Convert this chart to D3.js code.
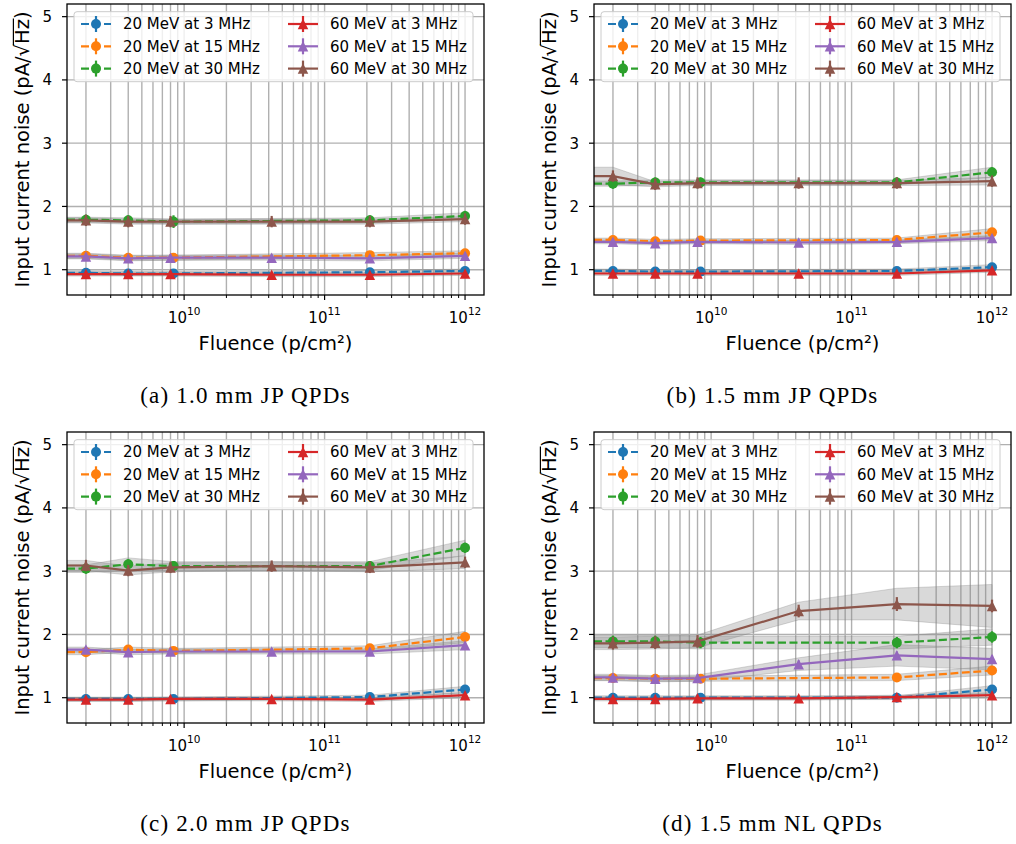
<!DOCTYPE html>
<html><head><meta charset="utf-8">
<script src="https://cdn.jsdelivr.net/npm/d3@7"></script>
<style>body{margin:0;background:#fff} svg{display:block}</style>
</head><body><svg id="fig" width="1016" height="844"></svg>
<script>
// Fluence steps (p/cm²) for each beam energy
const fluence20 = [2e9, 4e9, 8.4e9, 2.1e11, 1e12];
const fluence60 = [2e9, 4e9, 8e9, 4.2e10, 2.1e11, 1e12];

const seriesNames = ["20 MeV at 3 MHz", "20 MeV at 15 MHz", "20 MeV at 30 MHz",
                     "60 MeV at 3 MHz", "60 MeV at 15 MHz", "60 MeV at 30 MHz"];
const seriesColors = ["#1f77b4", "#ff7f0e", "#2ca02c", "#d62728", "#9467bd", "#8c564b"];
const yTicks = [1, 2, 3, 4, 5];
const xMajorTicks = [1e10, 1e11, 1e12];
const captions = ["(a) 1.0 mm JP QPDs", "(b) 1.5 mm JP QPDs", "(c) 2.0 mm JP QPDs", "(d) 1.5 mm NL QPDs"];

// Mean input current noise (pA/√Hz), series in the order of seriesNames
const noiseA = [
  [0.95, 0.94, 0.94, 0.96, 0.98],
  [1.22, 1.19, 1.19, 1.23, 1.26],
  [1.79, 1.78, 1.76, 1.78, 1.85],
  [0.93, 0.93, 0.93, 0.92, 0.92, 0.94],
  [1.21, 1.18, 1.19, 1.19, 1.18, 1.22],
  [1.78, 1.76, 1.76, 1.76, 1.76, 1.80]];
const noiseB = [
  [0.98, 0.97, 0.97, 0.98, 1.04],
  [1.47, 1.45, 1.46, 1.47, 1.59],
  [2.36, 2.38, 2.38, 2.38, 2.54],
  [0.94, 0.94, 0.94, 0.94, 0.94, 0.99],
  [1.44, 1.42, 1.44, 1.43, 1.44, 1.50],
  [2.48, 2.35, 2.37, 2.37, 2.37, 2.40]];
const noiseC = [
  [0.98, 0.98, 0.98, 1.01, 1.13],
  [1.72, 1.76, 1.74, 1.78, 1.96],
  [3.04, 3.11, 3.08, 3.08, 3.37],
  [0.97, 0.97, 0.98, 0.98, 0.97, 1.04],
  [1.76, 1.72, 1.73, 1.73, 1.73, 1.83],
  [3.09, 3.01, 3.06, 3.08, 3.06, 3.14]];
const noiseD = [
  [1.00, 1.00, 1.00, 1.00, 1.13],
  [1.31, 1.30, 1.30, 1.32, 1.43],
  [1.89, 1.89, 1.87, 1.87, 1.96],
  [0.98, 0.98, 0.99, 0.99, 1.01, 1.04],
  [1.32, 1.30, 1.31, 1.53, 1.67, 1.61],
  [1.86, 1.87, 1.89, 2.37, 2.48, 2.45]];

// Device-to-device spread (half width of the shaded band)
const spreadA = [
  [0.03, 0.03, 0.03, 0.03, 0.03],
  [0.04, 0.04, 0.04, 0.04, 0.04],
  [0.04, 0.04, 0.04, 0.04, 0.05],
  [0.03, 0.03, 0.03, 0.03, 0.03, 0.03],
  [0.04, 0.04, 0.04, 0.04, 0.04, 0.04],
  [0.04, 0.04, 0.04, 0.04, 0.04, 0.04]];
const spreadB = [
  [0.03, 0.03, 0.03, 0.03, 0.04],
  [0.03, 0.03, 0.03, 0.03, 0.06],
  [0.04, 0.04, 0.04, 0.04, 0.08],
  [0.03, 0.03, 0.03, 0.03, 0.03, 0.03],
  [0.03, 0.03, 0.03, 0.03, 0.03, 0.04],
  [0.14, 0.04, 0.04, 0.04, 0.04, 0.06]];
const spreadC = [
  [0.03, 0.03, 0.03, 0.03, 0.05],
  [0.04, 0.04, 0.04, 0.04, 0.09],
  [0.06, 0.10, 0.07, 0.07, 0.12],
  [0.03, 0.03, 0.03, 0.03, 0.03, 0.04],
  [0.04, 0.04, 0.04, 0.04, 0.04, 0.07],
  [0.08, 0.07, 0.07, 0.07, 0.07, 0.10]];
const spreadD = [
  [0.03, 0.03, 0.03, 0.03, 0.06],
  [0.04, 0.04, 0.04, 0.05, 0.07],
  [0.10, 0.10, 0.10, 0.10, 0.13],
  [0.03, 0.03, 0.03, 0.03, 0.03, 0.04],
  [0.05, 0.05, 0.05, 0.10, 0.17, 0.17],
  [0.10, 0.10, 0.10, 0.14, 0.25, 0.34]];

// Measurement uncertainty (error bar half length)
const errA = [
  [0.03, 0.03, 0.03, 0.03, 0.03],
  [0.04, 0.04, 0.04, 0.04, 0.04],
  [0.08, 0.08, 0.10, 0.08, 0.08],
  [0.03, 0.03, 0.03, 0.03, 0.03, 0.03],
  [0.05, 0.05, 0.05, 0.05, 0.05, 0.05],
  [0.09, 0.09, 0.09, 0.09, 0.09, 0.09]];
const errB = [
  [0.03, 0.03, 0.03, 0.03, 0.03],
  [0.04, 0.04, 0.04, 0.04, 0.04],
  [0.08, 0.08, 0.08, 0.08, 0.08],
  [0.03, 0.03, 0.03, 0.03, 0.03, 0.03],
  [0.05, 0.05, 0.05, 0.05, 0.05, 0.05],
  [0.09, 0.09, 0.09, 0.09, 0.09, 0.09]];
const errC = [
  [0.03, 0.03, 0.03, 0.03, 0.03],
  [0.05, 0.05, 0.05, 0.05, 0.05],
  [0.08, 0.08, 0.08, 0.08, 0.08],
  [0.03, 0.03, 0.03, 0.03, 0.03, 0.03],
  [0.05, 0.05, 0.05, 0.05, 0.05, 0.05],
  [0.09, 0.09, 0.09, 0.09, 0.09, 0.09]];
const errD = [
  [0.03, 0.03, 0.03, 0.03, 0.03],
  [0.05, 0.05, 0.05, 0.05, 0.05],
  [0.09, 0.09, 0.09, 0.09, 0.09],
  [0.03, 0.03, 0.03, 0.03, 0.03, 0.03],
  [0.06, 0.06, 0.06, 0.06, 0.06, 0.06],
  [0.10, 0.10, 0.10, 0.10, 0.11, 0.10]];

const panels = [
  {left: 67,  top: 4,   noise: noiseA, spread: spreadA, err: errA, caption: captions[0]},
  {left: 594, top: 4,   noise: noiseB, spread: spreadB, err: errB, caption: captions[1]},
  {left: 67,  top: 432, noise: noiseC, spread: spreadC, err: errC, caption: captions[2]},
  {left: 594, top: 432, noise: noiseD, spread: spreadD, err: errD, caption: captions[3]}
];

const W = 417, H = 291;
const FONT = "'DejaVu Sans', sans-serif";
const svg = d3.select("#fig");

// x limits: data range in log space padded by 5 % on each side
const allX = fluence20.concat(fluence60);
const lmin = Math.log10(d3.min(allX)), lmax = Math.log10(d3.max(allX));
const pad = 0.05 * (lmax - lmin);
const xDomain = [Math.pow(10, lmin - pad), Math.pow(10, lmax + pad)];

// minor log ticks inside the domain
const minorTicks = [];
for (let e = 9; e <= 12; e++) for (let m = 2; m <= 9; m++) {
  const v = m * Math.pow(10, e);
  if (v >= xDomain[0] && v <= xDomain[1]) minorTicks.push(v);
}

function trianglePath(s) {
  const h = s / 2;
  return `M0,${-h}L${h},${h}L${-h},${h}Z`;
}

function drawMarker(g, isTri, color, cx, cy) {
  if (isTri) {
    g.append("path").attr("d", trianglePath(10.5))
      .attr("transform", `translate(${cx},${cy})`).attr("fill", color);
  } else {
    g.append("circle").attr("cx", cx).attr("cy", cy).attr("r", 5).attr("fill", color);
  }
}

panels.forEach((p, pi) => {
  const g = svg.append("g").attr("transform", `translate(${p.left},${p.top})`);
  const x = d3.scaleLog().domain(xDomain).range([0, W]);
  const y = d3.scaleLinear().domain([0.6, 5.2]).range([H, 0]);

  const clipId = "clip" + pi;
  g.append("clipPath").attr("id", clipId).append("rect").attr("width", W).attr("height", H);

  // grid (major and minor on x, major on y)
  const grid = g.append("g").attr("stroke", "#b0b0b0").attr("stroke-width", 1.4);
  minorTicks.concat(xMajorTicks).forEach(v => {
    grid.append("line").attr("x1", x(v)).attr("x2", x(v)).attr("y1", 0).attr("y2", H);
  });
  yTicks.forEach(v => {
    grid.append("line").attr("x1", 0).attr("x2", W).attr("y1", y(v)).attr("y2", y(v));
  });

  const plot = g.append("g").attr("clip-path", `url(#${clipId})`);

  // build series rows, extended to the left axis edge at the first value
  const series = seriesNames.map((name, si) => {
    const xs = si < 3 ? fluence20 : fluence60;
    const pts = xs.map((f, i) => ({f, v: p.noise[si][i], s: p.spread[si][i], e: p.err[si][i]}));
    return {si, pts, ext: [{f: xDomain[0], v: pts[0].v, s: pts[0].s}].concat(pts)};
  });

  // shaded spread bands
  const band = d3.area().x(d => x(d.f)).y0(d => y(d.v - d.s)).y1(d => y(d.v + d.s));
  series.forEach(s => {
    plot.append("path").attr("d", band(s.ext))
      .attr("fill", "#808080").attr("fill-opacity", 0.3)
      .attr("stroke", "#808080").attr("stroke-opacity", 0.3).attr("stroke-width", 1);
  });

  // lines, error bars and markers
  const line = d3.line().x(d => x(d.f)).y(d => y(d.v));
  series.forEach(s => {
    const color = seriesColors[s.si];
    const dashed = s.si < 3;
    plot.append("path").attr("d", line(s.ext)).attr("fill", "none")
      .attr("stroke", color).attr("stroke-width", 2.2)
      .attr("stroke-dasharray", dashed ? "8,3.5" : null);
    s.pts.forEach(d => {
      plot.append("line").attr("x1", x(d.f)).attr("x2", x(d.f))
        .attr("y1", y(d.v - d.e)).attr("y2", y(d.v + d.e))
        .attr("stroke", color).attr("stroke-width", 2.2);
      drawMarker(plot, !dashed, color, x(d.f), y(d.v));
    });
  });

  // frame
  g.append("rect").attr("width", W).attr("height", H).attr("fill", "none")
    .attr("stroke", "#000").attr("stroke-width", 1.3);

  // y ticks
  yTicks.forEach(v => {
    g.append("line").attr("x1", -5).attr("x2", 0).attr("y1", y(v)).attr("y2", y(v))
      .attr("stroke", "#000").attr("stroke-width", 1.2);
    g.append("text").attr("x", -15).attr("y", y(v)).attr("dy", "0.36em")
      .attr("text-anchor", "end").attr("font-family", FONT).attr("font-size", 15)
      .attr("fill", "#000").text(v);
  });

  // x ticks
  minorTicks.forEach(v => {
    g.append("line").attr("x1", x(v)).attr("x2", x(v)).attr("y1", H).attr("y2", H + 3)
      .attr("stroke", "#000").attr("stroke-width", 1);
  });
  xMajorTicks.forEach(v => {
    g.append("line").attr("x1", x(v)).attr("x2", x(v)).attr("y1", H).attr("y2", H + 5)
      .attr("stroke", "#000").attr("stroke-width", 1.2);
    const t = g.append("text").attr("x", x(v)).attr("y", H + 28)
      .attr("text-anchor", "middle").attr("font-family", FONT).attr("font-size", 15).attr("fill", "#000");
    t.append("tspan").text("10");
    t.append("tspan").attr("font-size", 10.5).attr("dy", -8).text(Math.round(Math.log10(v)));
  });

  // axis labels
  g.append("text").attr("x", W / 2).attr("y", H + 55).attr("text-anchor", "middle")
    .attr("font-family", FONT).attr("font-size", 19.5).attr("fill", "#000")
    .text("Fluence (p/cm²)");

  const yl = g.append("g").attr("transform", `translate(-38,${H / 2}) rotate(-90)`);
  const yt = yl.append("text").attr("text-anchor", "middle")
    .attr("font-family", FONT).attr("font-size", 19.5).attr("fill", "#000");
  yt.append("tspan").text("Input current noise (pA/");
  yt.append("tspan").text("√");
  yt.append("tspan").text("Hz");
  yt.append("tspan").text(")");
  const node = yt.node();
  const full = node.textContent;
  const iRad = full.indexOf("√");
  const rad = node.getExtentOfChar(iRad);
  const zEnd = node.getEndPositionOfChar(iRad + 2).x;
  yl.append("line").attr("x1", rad.x + rad.width - 1.2).attr("x2", zEnd + 0.5)
    .attr("y1", -15.6).attr("y2", -15.6).attr("stroke", "#000").attr("stroke-width", 1.2);

  // legend
  const lg = g.append("g").attr("transform", "translate(7,7.7)");
  lg.append("rect").attr("width", 399).attr("height", 70).attr("rx", 3)
    .attr("fill", "#fff").attr("fill-opacity", 0.8).attr("stroke", "#cccccc").attr("stroke-width", 1);
  seriesNames.forEach((name, si) => {
    const col = si < 3 ? 0 : 1;
    const row = si % 3;
    const hx = col === 0 ? 7 : 214;
    const cy = 12.3 + row * 22.3;
    const color = seriesColors[si];
    lg.append("line").attr("x1", hx).attr("x2", hx + 30).attr("y1", cy).attr("y2", cy)
      .attr("stroke", color).attr("stroke-width", 2.2)
      .attr("stroke-dasharray", col === 0 ? "8,3.5" : null);
    lg.append("line").attr("x1", hx + 15).attr("x2", hx + 15).attr("y1", cy - 8).attr("y2", cy + 8)
      .attr("stroke", color).attr("stroke-width", 2.2);
    drawMarker(lg, col === 1, color, hx + 15, cy);
    lg.append("text").attr("x", hx + 42).attr("y", cy).attr("dy", "0.36em")
      .attr("font-family", FONT).attr("font-size", 15).attr("fill", "#000").text(name);
  });

  // caption
  svg.append("text").attr("x", p.left - 67 + 245.5).attr("y", p.top + 399)
    .attr("text-anchor", "middle").attr("font-family", "'Liberation Serif', serif")
    .attr("font-size", 23).attr("letter-spacing", 1.2).attr("fill", "#000").text(p.caption);
});
</script></body></html>
